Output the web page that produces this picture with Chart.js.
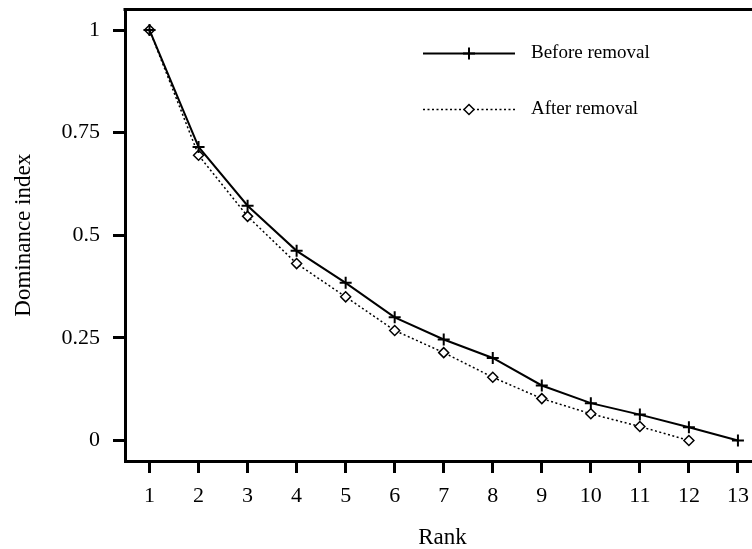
<!DOCTYPE html>
<html>
<head>
<meta charset="utf-8">
<script src="https://cdn.jsdelivr.net/npm/chart.js@4.4.1/dist/chart.umd.min.js"></script>
<style>
  html, body { margin: 0; padding: 0; background: #fff; overflow: hidden; }
  #wrap { position: relative; width: 768px; height: 549px; }
</style>
</head>
<body>
<div id="wrap"><canvas id="rankChart"></canvas></div>
<script>
// ranks and dominance index values
const ranks = [1, 2, 3, 4, 5, 6, 7, 8, 9, 10, 11, 12, 13];
const beforeRemoval = [1, 0.715, 0.572, 0.462, 0.384, 0.300, 0.246, 0.201, 0.134, 0.091, 0.063, 0.032, 0.0];
const afterRemoval = [1, 0.695, 0.546, 0.431, 0.350, 0.268, 0.214, 0.154, 0.102, 0.065, 0.034, 0.0];
const yTickValues = [0, 0.25, 0.5, 0.75, 1];
const seriesNames = ["Before removal", "After removal"];

const serif = "'Liberation Serif', 'Times New Roman', serif";

function toPoints(values) {
  return values.map((v, i) => ({ x: ranks[i], y: v }));
}

// small marker helper for the legend
function drawMarker(ctx, style, x, y, r, lw) {
  ctx.save();
  ctx.setLineDash([]);
  ctx.lineWidth = lw;
  ctx.strokeStyle = "#000";
  ctx.fillStyle = "#fff";
  ctx.beginPath();
  if (style === "cross") {
    ctx.moveTo(x - r, y); ctx.lineTo(x + r, y);
    ctx.moveTo(x, y - r); ctx.lineTo(x, y + r);
    ctx.stroke();
  } else {
    ctx.moveTo(x - r, y); ctx.lineTo(x, y - r);
    ctx.lineTo(x + r, y); ctx.lineTo(x, y + r);
    ctx.closePath();
    ctx.fill();
    ctx.stroke();
  }
  ctx.restore();
}

const frameAndLegend = {
  id: "frameAndLegend",
  afterDraw(chart) {
    const ctx = chart.ctx;
    const area = chart.chartArea;

    // top frame line
    ctx.save();
    ctx.strokeStyle = "#000";
    ctx.lineWidth = 3;
    ctx.beginPath();
    ctx.moveTo(area.left - 1.5, area.top);
    ctx.lineTo(area.right, area.top);
    ctx.stroke();
    ctx.restore();

    // legend
    const lx0 = 423, lx1 = 515, mx = 469, tx = 531;
    const rows = [53.5, 109.5];
    chart.data.datasets.forEach((ds, i) => {
      const y = rows[i];
      ctx.save();
      ctx.strokeStyle = ds.borderColor;
      ctx.lineWidth = ds.borderWidth;
      ctx.setLineDash(ds.borderDash || []);
      ctx.beginPath();
      ctx.moveTo(lx0, y);
      ctx.lineTo(lx1, y);
      ctx.stroke();
      ctx.restore();
      drawMarker(ctx, ds.pointStyle, mx, y, ds.pointRadius, ds.pointBorderWidth);
      ctx.save();
      ctx.fillStyle = "#000";
      ctx.font = "19px " + serif;
      ctx.textBaseline = "middle";
      ctx.fillText(ds.label, tx, y);
      ctx.restore();
    });
  }
};

new Chart(document.getElementById("rankChart"), {
  type: "line",
  data: {
    datasets: [
      {
        label: seriesNames[0],
        data: toPoints(beforeRemoval),
        borderColor: "#000",
        borderWidth: 2,
        pointStyle: "cross",
        pointRadius: 6,
        pointBorderWidth: 2,
        pointBorderColor: "#000",
        pointBackgroundColor: "#000",
        tension: 0
      },
      {
        label: seriesNames[1],
        data: toPoints(afterRemoval),
        borderColor: "#000",
        borderWidth: 1.5,
        borderDash: [2, 2.5],
        pointStyle: "rectRot",
        pointRadius: 5,
        pointBorderWidth: 1.5,
        pointBorderColor: "#000",
        pointBackgroundColor: "#fff",
        tension: 0
      }
    ]
  },
  options: {
    responsive: true,
    maintainAspectRatio: false,
    animation: false,
    clip: false,
    layout: { padding: { top: 9.5, left: 0, right: 0, bottom: 0 } },
    plugins: {
      legend: { display: false },
      tooltip: { enabled: false }
    },
    scales: {
      x: {
        type: "linear",
        // axis runs on a little past rank 13
        min: 0.5,
        max: 13.45,
        afterFit(scale) {
          scale.height = 88;
          scale.paddingLeft = 0;
          scale.paddingRight = 0;
        },
        afterBuildTicks(scale) { scale.ticks = ranks.map(v => ({ value: v })); },
        border: { display: true, color: "#000", width: 3 },
        grid: {
          display: true,
          drawOnChartArea: false,
          drawTicks: true,
          tickLength: 12,
          tickWidth: 3,
          tickColor: "#000"
        },
        ticks: {
          color: "#000",
          font: { family: serif, size: 22 },
          padding: 10.5,
          maxRotation: 0,
          autoSkip: false
        },
        title: {
          display: true,
          text: "Rank",
          color: "#000",
          font: { family: serif, size: 23, lineHeight: 1 },
          padding: { top: 0, bottom: 0 }
        }
      },
      y: {
        min: -0.05,
        max: 1.05,
        afterFit(scale) {
          scale.width = 125;
          scale.paddingTop = 0;
          scale.paddingBottom = 0;
        },
        afterBuildTicks(scale) { scale.ticks = yTickValues.map(v => ({ value: v })); },
        border: { display: true, color: "#000", width: 3 },
        grid: {
          display: true,
          drawOnChartArea: false,
          drawTicks: true,
          tickLength: 12,
          tickWidth: 3,
          tickColor: "#000"
        },
        ticks: {
          color: "#000",
          font: { family: serif, size: 22 },
          padding: 13,
          callback: v => String(v)
        },
        title: {
          display: true,
          text: "Dominance index",
          color: "#000",
          font: { family: serif, size: 23, lineHeight: 1 },
          padding: { top: 12, bottom: 0 }
        }
      }
    }
  },
  plugins: [frameAndLegend]
});
</script>
</body>
</html>
